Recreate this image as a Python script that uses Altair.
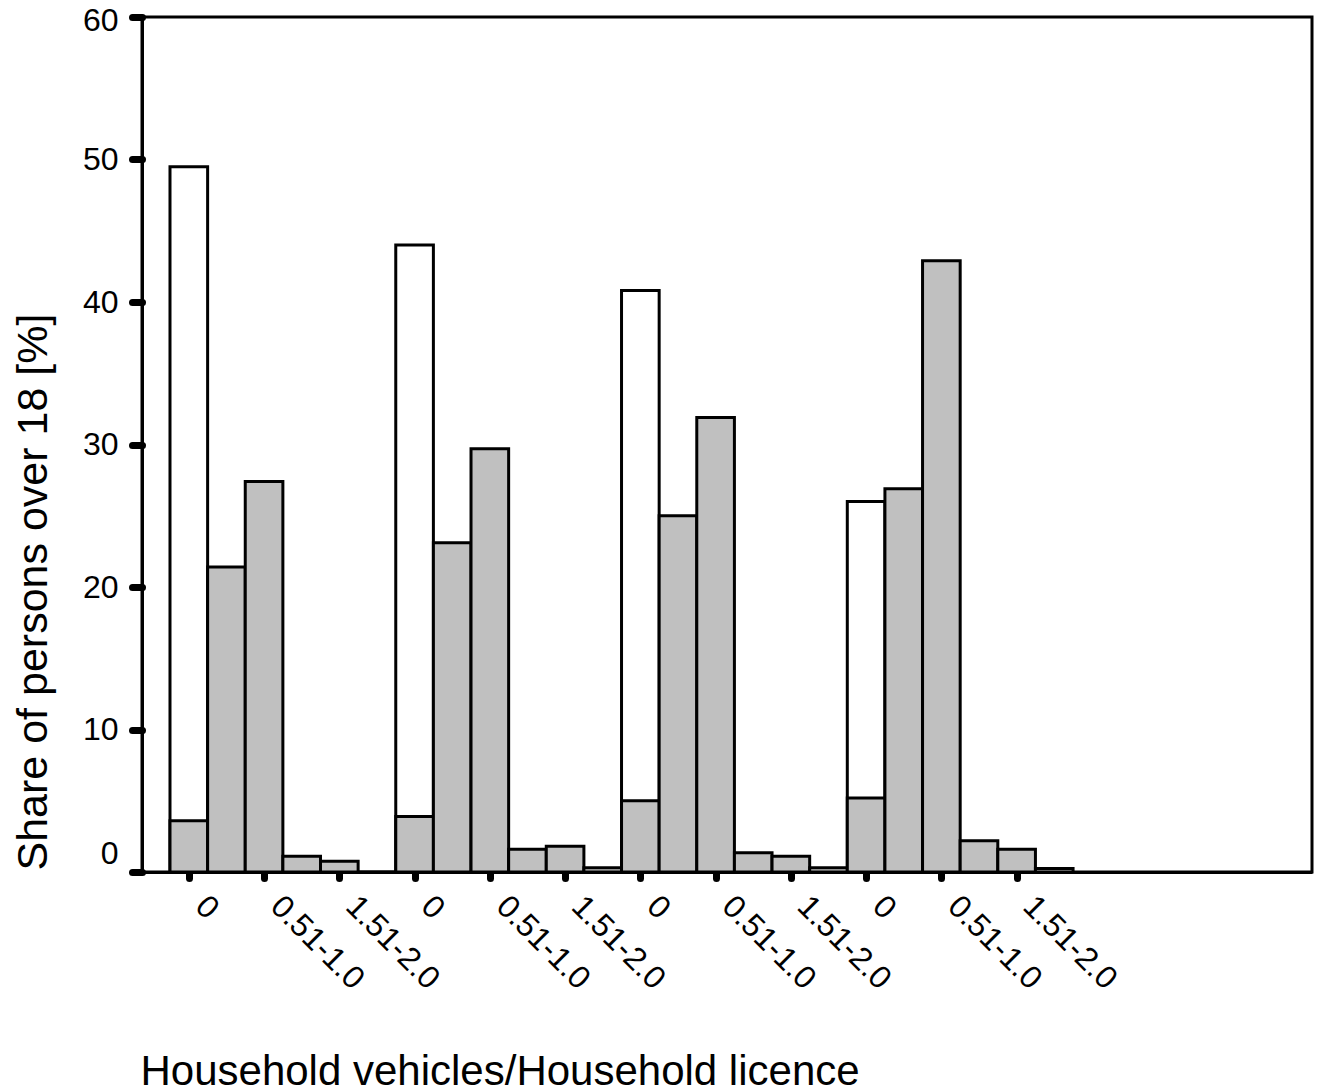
import altair as alt
import pandas as pd

# Share of persons over 18 [%] per bin (24 bins: 4 groups x 6 bins)
grey_values = [3.6, 21.4, 27.4, 1.1, 0.75, 0.0,
               3.9, 23.1, 29.7, 1.6, 1.8, 0.3,
               5.0, 25.0, 31.9, 1.35, 1.1, 0.3,
               5.2, 26.9, 42.9, 2.2, 1.6, 0.25]
white_bins = [0, 6, 12, 18]
white_values = [49.5, 44.0, 40.8, 26.0]
tick_labels = ["0", "0.51-1.0", "1.51-2.0"] * 4
tick_bins = list(range(0, 24, 2))

grey_df = pd.DataFrame({
    "start": list(range(len(grey_values))),
    "end": [i + 1 for i in range(len(grey_values))],
    "value": grey_values,
})
white_df = pd.DataFrame({
    "start": white_bins,
    "end": [b + 1 for b in white_bins],
    "value": white_values,
})

FONT = "Liberation Sans"
label_expr = "[" + ",".join("'%s'" % t for t in tick_labels) + "][round((datum.value - 0.5) / 2)]"

x_scale = alt.Scale(domain=[-0.744, 30.35], nice=False, zero=False)
y_scale = alt.Scale(domain=[0, 60], nice=False, zero=True)

x_axis = alt.Axis(
    values=[b + 0.5 for b in tick_bins],
    labelExpr=label_expr,
    labelAngle=45, labelAlign="left", labelBaseline="top",
    labelOffset=22, labelPadding=12,
    labelFont=FONT, labelFontSize=32, labelColor="black",
    tickSize=6, tickWidth=7, tickCap="round", tickColor="black",
    domainColor="black", domainWidth=3, grid=False,
    title="Household vehicles/Household licence",
    titleFont=FONT, titleFontSize=42, titleFontWeight="normal", titleColor="black",
    titleX=-2, titleY=212, titleAlign="left", titleBaseline="alphabetic", titleAnchor="start",
    labelOverlap=False, labelFlush=False,
)
y_axis = alt.Axis(
    values=[0, 10, 20, 30, 40, 50, 60],
    labelFont=FONT, labelFontSize=32, labelColor="black", labelPadding=14,
    labelOffset={"condition": [
        {"test": "datum.value == 0", "value": -19},
        {"test": "datum.value == 60", "value": 3},
    ], "value": 0},
    tickSize=10, tickWidth=7, tickCap="round", tickColor="black",
    domainColor="black", domainWidth=3, grid=False,
    title="Share of persons over 18 [%]",
    titleFont=FONT, titleFontSize=43, titleFontWeight="normal", titleColor="black",
    titleX=-96, titleY=853, titleAngle=270, titleAlign="left", titleBaseline="alphabetic",
    labelOverlap=False, labelFlush=False,
)

white = alt.Chart(white_df).mark_bar(fill="white", stroke="black", strokeWidth=3).encode(
    x=alt.X("start:Q", scale=x_scale, axis=x_axis),
    x2="end:Q",
    y=alt.Y("value:Q", scale=y_scale, axis=y_axis),
    y2=alt.datum(0),
)
grey = alt.Chart(grey_df).mark_bar(fill="#c0c0c0", stroke="black", strokeWidth=3).encode(
    x=alt.X("start:Q", scale=x_scale, axis=x_axis),
    x2="end:Q",
    y=alt.Y("value:Q", scale=y_scale, axis=y_axis),
    y2=alt.datum(0),
)

chart = alt.layer(white, grey).properties(
    width=1170, height=855,
    padding={"left": 134, "top": 9, "right": 9, "bottom": 222},
    autosize=alt.AutoSizeParams(type="none"),
).configure_view(stroke="black", strokeWidth=3)

chart.save("out.html", embed_options={"renderer": "svg", "actions": False})
